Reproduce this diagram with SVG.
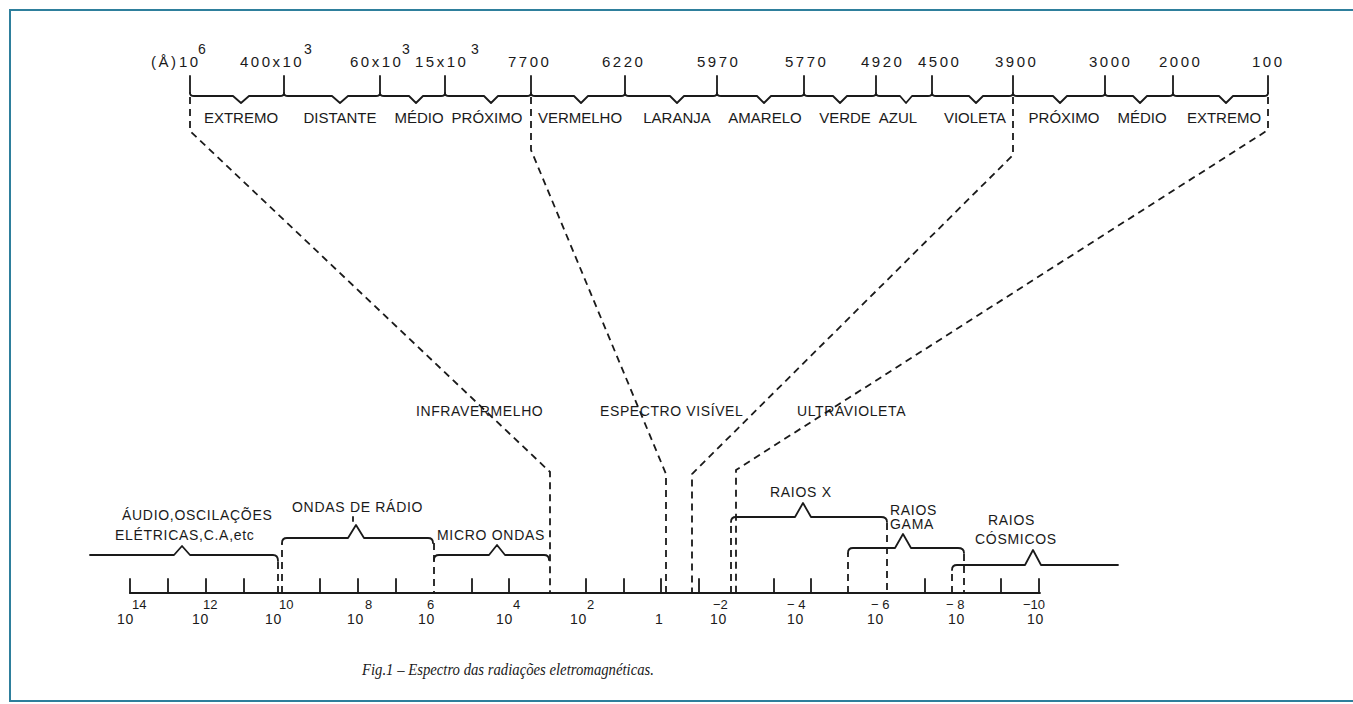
<svg xmlns="http://www.w3.org/2000/svg" width="1353" height="704" viewBox="0 0 1353 704">
<defs>
<style>
.ln{fill:none;stroke:#1a1a1a;stroke-width:1.8;stroke-linejoin:round;stroke-linecap:round}
.ds{fill:none;stroke:#1a1a1a;stroke-width:1.8;stroke-dasharray:7 5}
.t{font-family:"Liberation Sans",Arial,sans-serif;fill:#1a1a1a}
.num{font-size:15px;letter-spacing:2.5px}
.sup{font-size:14px}
.lab{font-size:15px;text-anchor:middle}
.mid{font-size:14px;letter-spacing:0.6px}
.bl{font-size:14px;letter-spacing:0.7px}
.p10{font-size:14px;letter-spacing:0.8px}
.pe{font-size:13px}
.cap{font-family:"Liberation Serif","Times New Roman",serif;font-style:italic;font-size:16.5px;fill:#1a1a1a}
</style>
</defs>
<rect width="1353" height="704" fill="#ffffff"/>
<path d="M1353,10 H10 V701 H1353" fill="none" stroke="#2e7f9c" stroke-width="2"/>

<g id="top-scale">
<path class="ln" d="M190,76 V93 M284,76 V93 M380,76 V93 M445,76 V93 M531,76 V93 M625,76 V93 M717,76 V93 M804,76 V93 M876,76 V93 M932,76 V93 M1013,76 V93 M1105,76 V93 M1173,76 V93 M1268,76 V93"/>
<path class="ln" d="M190,93 Q190,96 194,96 H233 L241,103 L249,96 H280 Q284,96 284,93 Q284,96 288,96 H332 L340,103 L348,96 H376 Q380,96 380,93 Q380,96 384,96 H409 L416,103 L423,96 H441 Q445,96 445,93 Q445,96 449,96 H484 L491,103 L498,96 H527 Q531,96 531,93 Q531,96 535,96 H574 L581,103 L588,96 H621 Q625,96 625,93 Q625,96 629,96 H670 L677,103 L684,96 H713 Q717,96 717,93 Q717,96 721,96 H757 L764,103 L771,96 H800 Q804,96 804,93 Q804,96 808,96 H833 L840,103 L847,96 H872 Q876,96 876,93 Q876,96 880,96 H900 L906,103 L912,96 H928 Q932,96 932,93 Q932,96 936,96 H969 L976,103 L983,96 H1009 Q1013,96 1013,93 Q1013,96 1017,96 H1053 L1060,103 L1067,96 H1101 Q1105,96 1105,93 Q1105,96 1109,96 H1133 L1140,103 L1147,96 H1169 Q1173,96 1173,93 Q1173,96 1177,96 H1219 L1226,103 L1233,96 H1264 Q1268,96 1268,93"/>
<text class="t num" x="151" y="67" letter-spacing="1">(Å)</text>
<text class="t num" x="179" y="67" letter-spacing="0">10</text>
<text class="t sup" x="198" y="54">6</text>
<text class="t num" x="240" y="67" letter-spacing="2">400x10</text>
<text class="t sup" x="304" y="54">3</text>
<text class="t num" x="350" y="67" letter-spacing="2">60x10</text>
<text class="t sup" x="402" y="54">3</text>
<text class="t num" x="415" y="67" letter-spacing="1">15x10</text>
<text class="t sup" x="471" y="54">3</text>
<text class="t num" x="508" y="67">7700</text>
<text class="t num" x="602" y="67">6220</text>
<text class="t num" x="697" y="67">5970</text>
<text class="t num" x="785" y="67">5770</text>
<text class="t num" x="861" y="67">4920</text>
<text class="t num" x="918" y="67">4500</text>
<text class="t num" x="995" y="67">3900</text>
<text class="t num" x="1089" y="67">3000</text>
<text class="t num" x="1159" y="67">2000</text>
<text class="t num" x="1252" y="67">100</text>
<text class="t lab" x="241" y="123">EXTREMO</text>
<text class="t lab" x="340" y="123">DISTANTE</text>
<text class="t lab" x="419" y="123">MÉDIO</text>
<text class="t lab" x="487" y="123">PRÓXIMO</text>
<text class="t lab" x="580" y="123">VERMELHO</text>
<text class="t lab" x="677" y="123">LARANJA</text>
<text class="t lab" x="765" y="123">AMARELO</text>
<text class="t lab" x="845" y="123">VERDE</text>
<text class="t lab" x="898" y="123">AZUL</text>
<text class="t lab" x="975" y="123">VIOLETA</text>
<text class="t lab" x="1064" y="123">PRÓXIMO</text>
<text class="t lab" x="1142" y="123">MÉDIO</text>
<text class="t lab" x="1224" y="123">EXTREMO</text>
</g>

<g id="connectors">
<path class="ds" d="M190,97 V131 L550,472 V593"/>
<path class="ds" d="M531,97 V150 L666,474 V593"/>
<path class="ds" d="M1013,97 V155 L692,474 V593"/>
<path class="ds" d="M1268,97 V130 L736,470 V593"/>
</g>

<g id="region-labels">
<text class="t mid" x="416" y="416">INFRAVERMELHO</text>
<text class="t mid" x="600" y="416">ESPECTRO  VISÍVEL</text>
<text class="t mid" x="797" y="416">ULTRAVIOLETA</text>
</g>

<g id="bottom-axis">
<path class="ln" d="M130,593 H1040"/>
<path class="ln" d="M130,579 V593 M168,579 V593 M206,579 V593 M244,579 V593 M320,579 V593 M358,579 V593 M396,579 V593 M472,579 V593 M509,579 V593 M586,579 V593 M624,579 V593 M661,579 V593 M699,579 V593 M774,579 V593 M811,579 V593 M925,579 V593 M1001,579 V593 M1039,579 V593"/>
<text class="t p10" x="117" y="624">10</text><text class="t pe" x="132" y="609">14</text>
<text class="t p10" x="192" y="624">10</text><text class="t pe" x="203" y="609">12</text>
<text class="t p10" x="265" y="624">10</text><text class="t pe" x="279" y="609">10</text>
<text class="t p10" x="347" y="624">10</text><text class="t pe" x="365" y="609">8</text>
<text class="t p10" x="418" y="624">10</text><text class="t pe" x="427" y="609">6</text>
<text class="t p10" x="496" y="624">10</text><text class="t pe" x="513" y="609">4</text>
<text class="t p10" x="570" y="624">10</text><text class="t pe" x="587" y="609">2</text>
<text class="t p10" x="655" y="624">1</text>
<text class="t p10" x="710" y="624">10</text><text class="t pe" x="713" y="609">−2</text>
<text class="t p10" x="787" y="624">10</text><text class="t pe" x="787" y="609">− 4</text>
<text class="t p10" x="867" y="624">10</text><text class="t pe" x="871" y="609">− 6</text>
<text class="t p10" x="948" y="624">10</text><text class="t pe" x="946" y="609">− 8</text>
<text class="t p10" x="1027" y="624">10</text><text class="t pe" x="1023" y="609">−10</text>
</g>

<g id="audio">
<path class="ln" d="M90,555 H174 L182,546 L190,555 H273 Q278,555 278,561"/>
<path class="ds" d="M278,562 V593"/>
<text class="t bl" x="122" y="520">ÁUDIO,OSCILAÇÕES</text>
<text class="t bl" x="115" y="540" letter-spacing="1.2">ELÉTRICAS,C.A,etc</text>
</g>

<g id="radio">
<path class="ds" d="M282,593 V543"/>
<path class="ln" d="M282,543 Q282,538 287,538 H348 L356,525 L364,538 H428 Q433,538 433,543"/>
<path class="ds" d="M434,543 V593"/>
<path class="ln" d="M353,517 V521"/>
<text class="t bl" x="292" y="512">ONDAS DE RÁDIO</text>
</g>

<g id="micro">
<path class="ln" d="M434,560 Q434,555 439,555 H489 L497,545 L505,555 H544 Q549,555 549,560"/>
<text class="t bl" x="437" y="540">MICRO  ONDAS</text>
</g>

<g id="raios-x">
<path class="ds" d="M731,593 V522"/>
<path class="ln" d="M731,522 Q731,517 736,517 H795 L803,503 L811,517 H881 Q887,517 887,522"/>
<path class="ds" d="M887,523 V593"/>
<text class="t bl" x="770" y="497" letter-spacing="1.5">RAIOS  X</text>
</g>

<g id="raios-gama">
<path class="ds" d="M848,593 V553"/>
<path class="ln" d="M848,553 Q848,548 853,548 H895 L903,534 L911,548 H958 Q964,548 964,553"/>
<path class="ds" d="M964,554 V593"/>
<text class="t bl" x="890" y="515" letter-spacing="0">RAIOS</text>
<text class="t bl" x="890" y="529" letter-spacing="0">GAMA</text>
</g>

<g id="raios-cosmicos">
<path class="ds" d="M952,593 V570"/>
<path class="ln" d="M952,570 Q952,565 957,565 H1025 L1033,550 L1041,565 H1118"/>
<text class="t bl" x="988" y="525" letter-spacing="1.5">RAIOS</text>
<text class="t bl" x="975" y="544">CÓSMICOS</text>
</g>

<text class="cap" x="362" y="675" textLength="292" lengthAdjust="spacingAndGlyphs">Fig.1 – Espectro das radiações eletromagnéticas.</text>
</svg>
